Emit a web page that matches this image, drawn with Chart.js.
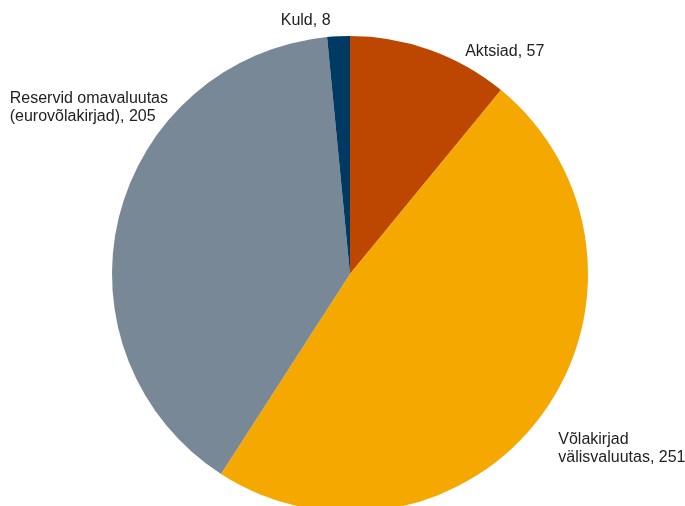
<!DOCTYPE html>
<html lang="et">
<head>
    <meta charset="UTF-8">
    <title>Reservid</title>
    <script src="https://cdn.jsdelivr.net/npm/chart.js"></script>
    <style>
        html, body { margin: 0; padding: 0; background: #fff; overflow: hidden; }
        #wrap { width: 685px; height: 506px; }
    </style>
</head>
<body>
    <div id="wrap"><canvas id="myChart" width="685" height="506"></canvas></div>
    <script>
        // andmed
        const categories = ['Aktsiad', 'Võlakirjad välisvaluutas', 'Reservid omavaluutas (eurovõlakirjad)', 'Kuld'];
        const labelLines = [['Aktsiad, 57'], ['Võlakirjad', 'välisvaluutas, 251'], ['Reservid omavaluutas', '(eurovõlakirjad), 205'], ['Kuld, 8']];
        const values = [57, 251, 205, 8];
        const colors = ['#BD4700', '#F5A800', '#798896', '#003A63'];

        // silte paigutame viilu keskkohast (r-l) väikese nihkega
        const labelOffsets = [
            { dx: 35, dy: 2, align: 'left' },
            { dx: 16, dy: 25, align: 'left' },
            { dx: -109, dy: -119, align: 'left' },
            { dx: -8, dy: -16, align: 'right' }
        ];

        const outsideLabels = {
            id: 'outsideLabels',
            afterDraw(chart) {
                const ctx = chart.ctx;
                const arcs = chart.getDatasetMeta(0).data;
                ctx.save();
                ctx.font = '16px "Liberation Sans", Arial, sans-serif';
                ctx.fillStyle = '#222';
                ctx.textBaseline = 'middle';
                arcs.forEach((arc, i) => {
                    const mid = (arc.startAngle + arc.endAngle) / 2;
                    const ax = arc.x + Math.cos(mid) * arc.outerRadius;
                    const ay = arc.y + Math.sin(mid) * arc.outerRadius;
                    const o = labelOffsets[i];
                    ctx.textAlign = o.align;
                    labelLines[i].forEach((line, j) => {
                        ctx.fillText(line, ax + o.dx, ay + o.dy + j * 18);
                    });
                });
                ctx.restore();
            }
        };

        new Chart(document.getElementById('myChart'), {
            type: 'pie',
            data: {
                labels: categories,
                datasets: [{
                    data: values,
                    backgroundColor: colors,
                    borderWidth: 0
                }]
            },
            options: {
                responsive: false,
                animation: false,
                radius: 238,
                layout: { padding: { left: 15, top: 42 } },
                plugins: {
                    legend: { display: false },
                    tooltip: { enabled: false }
                }
            },
            plugins: [outsideLabels]
        });
    </script>
</body>
</html>
